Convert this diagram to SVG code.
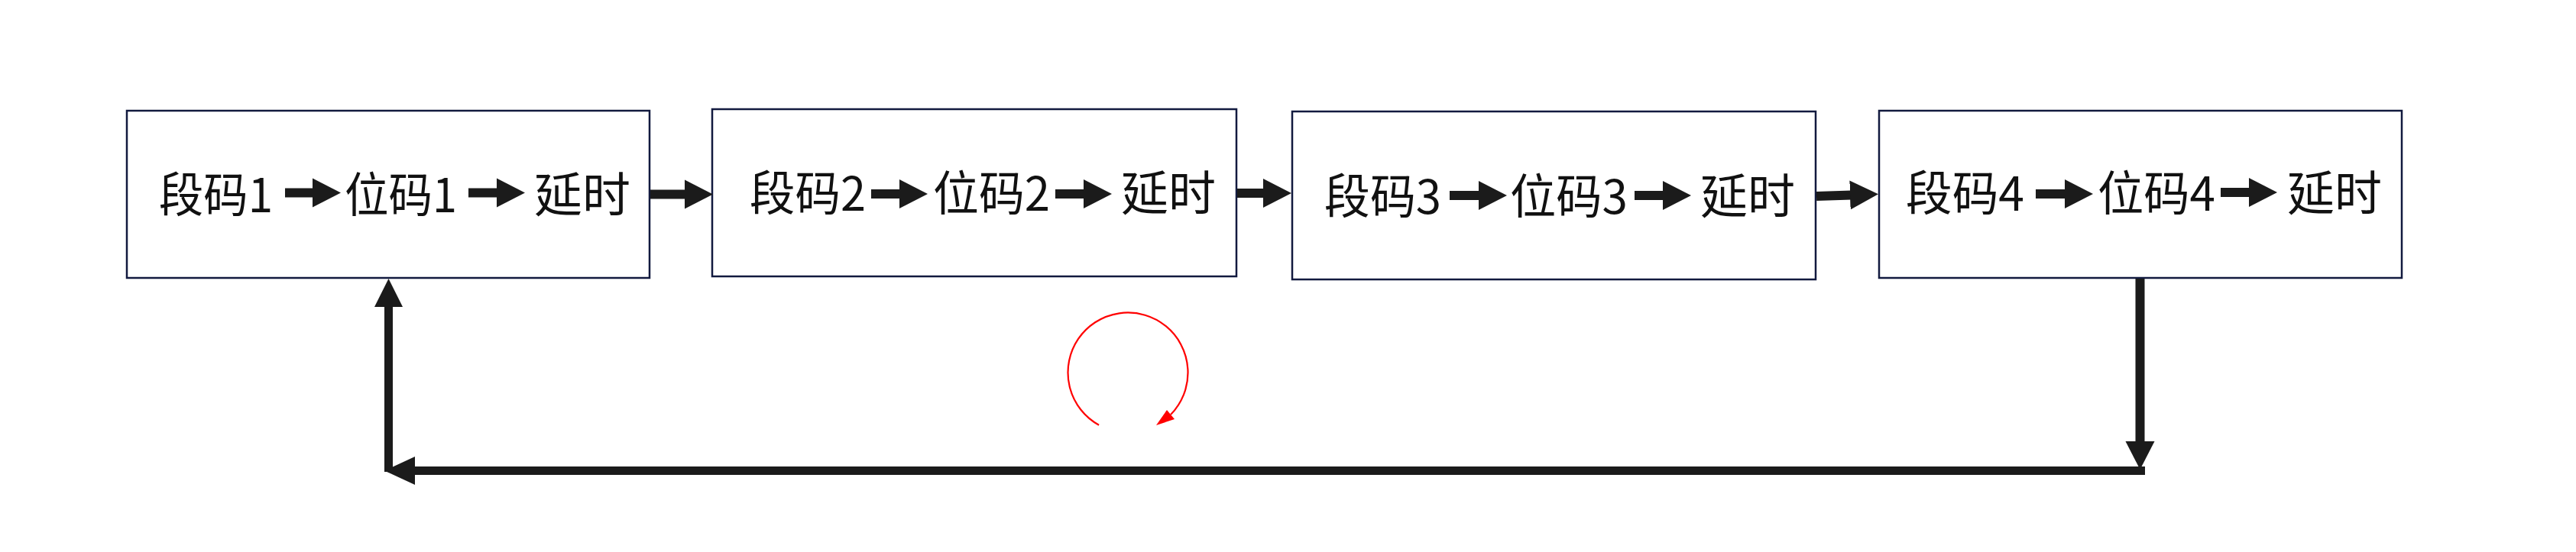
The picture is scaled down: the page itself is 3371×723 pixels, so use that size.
<svg xmlns="http://www.w3.org/2000/svg" width="3371" height="723" viewBox="0 0 3371 723">
<defs>
<marker id="ah" markerUnits="userSpaceOnUse" markerWidth="40" markerHeight="40" refX="2" refY="19" orient="auto" viewBox="0 0 40 38">
<path d="M0,0 L37,19 L0,38 z" fill="#1b1b1b"/>
</marker>
<style>
.box{fill:#ffffff;stroke:#121a3f;stroke-width:2.5}
.t{font-family:"Noto Sans CJK SC","Microsoft YaHei",sans-serif;font-size:62px;fill:#111111}
.ar{stroke:#1b1b1b;stroke-width:12;fill:none;marker-end:url(#ah)}
.fb{stroke:#1b1b1b;stroke-width:11;fill:none}
</style>
</defs>
<rect width="3371" height="723" fill="#ffffff"/>
<g id="node1">
<rect class="box" x="166" y="145" width="684" height="219"/>
<text class="t" x="208" y="278" textLength="149" lengthAdjust="spacingAndGlyphs">段码1</text>
<line class="ar" x1="373" y1="252.5" x2="411" y2="252.5"/>
<text class="t" x="451" y="278" textLength="147" lengthAdjust="spacingAndGlyphs">位码1</text>
<line class="ar" x1="613" y1="252.5" x2="652" y2="252.5"/>
<text class="t" x="699" y="278" textLength="126" lengthAdjust="spacingAndGlyphs">延时</text>
</g>
<g id="node2">
<rect class="box" x="932" y="143" width="686" height="219"/>
<text class="t" x="981" y="276" textLength="152" lengthAdjust="spacingAndGlyphs">段码2</text>
<line class="ar" x1="1140" y1="254" x2="1179" y2="254"/>
<text class="t" x="1221" y="276" textLength="153" lengthAdjust="spacingAndGlyphs">位码2</text>
<line class="ar" x1="1381" y1="254" x2="1420" y2="254"/>
<text class="t" x="1467" y="276" textLength="124" lengthAdjust="spacingAndGlyphs">延时</text>
</g>
<g id="node3">
<rect class="box" x="1691" y="146" width="685" height="220"/>
<text class="t" x="1733" y="280" textLength="153" lengthAdjust="spacingAndGlyphs">段码3</text>
<line class="ar" x1="1897" y1="256" x2="1937" y2="256"/>
<text class="t" x="1976" y="280" textLength="154" lengthAdjust="spacingAndGlyphs">位码3</text>
<line class="ar" x1="2139" y1="256" x2="2178" y2="256"/>
<text class="t" x="2225" y="280" textLength="124" lengthAdjust="spacingAndGlyphs">延时</text>
</g>
<g id="node4">
<rect class="box" x="2459" y="145" width="684" height="219"/>
<text class="t" x="2494" y="276" textLength="155" lengthAdjust="spacingAndGlyphs">段码4</text>
<line class="ar" x1="2664" y1="254" x2="2704" y2="254"/>
<text class="t" x="2745" y="276" textLength="154" lengthAdjust="spacingAndGlyphs">位码4</text>
<line class="ar" x1="2906" y1="252" x2="2945" y2="252"/>
<text class="t" x="2993" y="276" textLength="124" lengthAdjust="spacingAndGlyphs">延时</text>
</g>
<g id="connectors">
<line class="ar" x1="851" y1="254.5" x2="898" y2="254.5"/>
<line class="ar" x1="1619" y1="253" x2="1655" y2="253"/>
<line class="ar" x1="2377" y1="257" x2="2423" y2="255.5"/>
<line class="ar" x1="2800.5" y1="365" x2="2800.5" y2="580"/>
<polyline class="fb" points="2807,616.5 541,616.5"/>
<path d="M503,616.5 L543,598 L543,635 z" fill="#1b1b1b"/>
<line class="fb" x1="508.5" y1="618" x2="508.5" y2="400"/>
<path d="M508.5,365 L527,402 L490,402 z" fill="#1b1b1b"/>
<path d="M1438.1,556.7 A78.5,78.5 0 1 1 1532,543" fill="none" stroke="#ff0000" stroke-width="2.2"/>
<path d="M1513,557 L1527,537 L1537,549 z" fill="#ff0000"/>
</g>
</svg>
